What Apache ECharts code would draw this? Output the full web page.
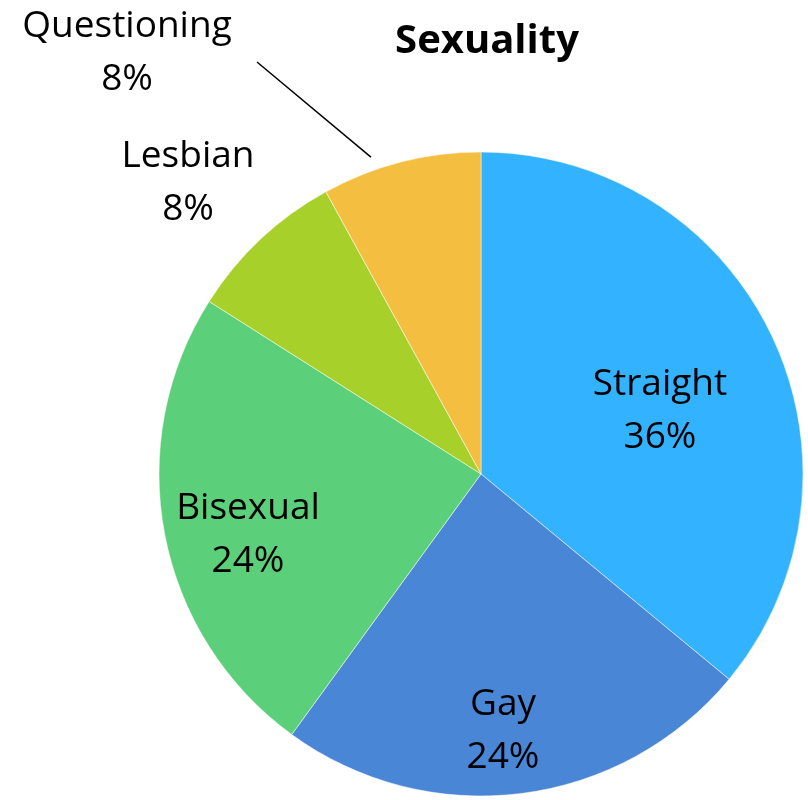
<!DOCTYPE html>
<html><head><meta charset="utf-8">
<script src="https://cdn.jsdelivr.net/npm/echarts@6/dist/echarts.min.js"></script>
<style>html,body{margin:0;padding:0;background:#fff}#c{width:808px;height:800px}</style>
</head><body><div id="c"></div>
<script>
const categories = ['Straight', 'Gay', 'Bisexual', 'Lesbian', 'Questioning'];
const values = [36, 24, 24, 8, 8];
const colors = ['#33B3FF', '#4A86D6', '#5BCF79', '#A7D02A', '#F4BF40'];
// label anchor positions (px) for each category
const labelPos = [[660, 411], [503, 731], [248, 535], [188, 183], [127, 53]];
const leaderEnd = [257, 62];

const chart = echarts.init(document.getElementById('c'));
chart.setOption({
  animation: false,
  title: {
    text: 'Sexuality', left: 482, top: 17, textAlign: 'center',
    textStyle: { fontFamily: 'Open Sans', fontWeight: 'bold', fontSize: 40, color: '#000' }
  },
  series: [{
    type: 'pie',
    center: [481, 474],
    radius: [0, 322],
    startAngle: 90,
    clockwise: true,
    avoidLabelOverlap: false,
    itemStyle: { borderColor: '#fff', borderWidth: 0.5 },
    label: {
      show: true, position: 'inside',
      formatter: p => p.name + '\n' + p.value + '%',
      fontFamily: 'Open Sans', fontSize: 37, color: '#000', lineHeight: 53, align: 'center'
    },
    labelLine: { show: false, lineStyle: { color: '#000', width: 1.5 } },
    labelLayout: p => {
      const o = {
        x: labelPos[p.dataIndex][0], y: labelPos[p.dataIndex][1],
        align: 'center', verticalAlign: 'middle', hideOverlap: false
      };
      if (p.dataIndex === 4 && p.labelLinePoints) {
        const s = p.labelLinePoints[0];
        o.labelLinePoints = [[s[0] - 30, s[1] - 5], leaderEnd, leaderEnd];
      }
      return o;
    },
    data: categories.map((c, i) => ({
      name: c, value: values[i], itemStyle: { color: colors[i] },
      label: { position: i >= 3 ? 'outside' : 'inside' },
      labelLine: { show: i === 4, length: 20, length2: 10 }
    }))
  }]
});
</script></body></html>
